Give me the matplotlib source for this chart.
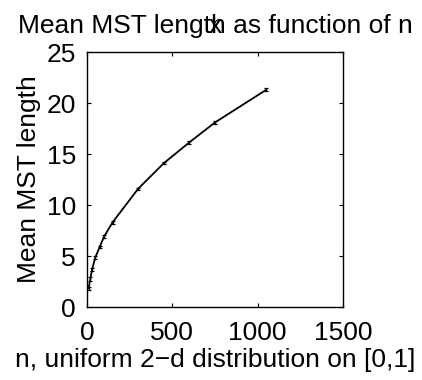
import matplotlib

matplotlib.use("Agg")
import matplotlib.pyplot as plt

plt.rcParams["font.family"] = ["Liberation Sans", "DejaVu Sans"]

# mean MST length for n uniform points in the unit square
n_points = [10, 20, 30, 50, 75, 100, 150, 300, 450, 600, 750, 1050]
mean_len = [1.85, 2.75, 3.7, 4.9, 5.9, 6.9, 8.3, 11.6, 14.1, 16.15, 18.1, 21.3]
err_len = [0.15, 0.15, 0.15, 0.15, 0.12, 0.12, 0.12, 0.12, 0.12, 0.12, 0.12, 0.15]

x_ticks = [0, 500, 1000, 1500]
y_ticks = [0, 5, 10, 15, 20, 25]

FS = 19

fig = plt.figure(figsize=(4.22, 3.8), dpi=100)
ax = fig.add_axes([0.206, 0.192, 0.607, 0.671])

ax.errorbar(n_points, mean_len, yerr=err_len, color="black", lw=1.3,
            elinewidth=0.9, capsize=1.5, capthick=0.9)

ax.set_xlim(0, 1500)
ax.set_ylim(0, 25)
ax.set_xticks(x_ticks)
ax.set_yticks(y_ticks)
ax.tick_params(direction="in", length=3, width=0.8, labelsize=FS,
               top=True, right=True)
ax.tick_params(axis="x", pad=10)
ax.tick_params(axis="y", pad=8)
for s in ax.spines.values():
    s.set_linewidth(1.0)

ax.set_title("Mean MST length as function of n", fontsize=FS, pad=14)
ax.set_xlabel("n, uniform 2\u2212d distribution on [0,1]", fontsize=FS, labelpad=2)
ax.set_ylabel("Mean MST length", fontsize=FS, labelpad=4)

# stray label overlapping the title
fig.text(215 / 422, 1 - 26 / 380, "x", fontsize=FS, ha="center", va="center")

fig.savefig("out.png", dpi=100)
